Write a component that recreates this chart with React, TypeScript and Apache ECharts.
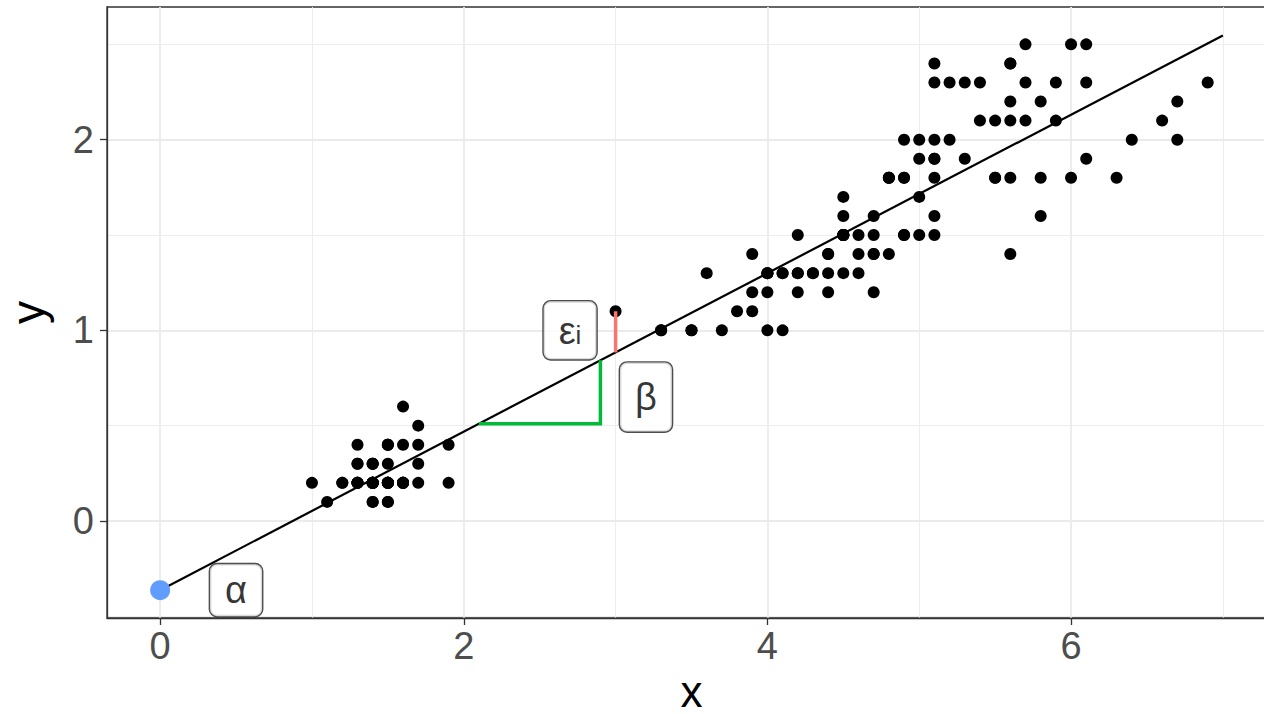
import React, { useEffect, useRef } from "react";
import * as echarts from "echarts";

// iris petal length (x) and petal width (y)
const petalLength = [
  1.4, 1.4, 1.3, 1.5, 1.4, 1.7, 1.4, 1.5, 1.4, 1.5, 1.5, 1.6, 1.4, 1.1, 1.2, 1.5, 1.3, 1.4, 1.7, 1.5,
  1.7, 1.5, 1.0, 1.7, 1.9, 1.6, 1.6, 1.5, 1.4, 1.6, 1.6, 1.5, 1.5, 1.4, 1.5, 1.2, 1.3, 1.4, 1.3, 1.5,
  1.3, 1.3, 1.3, 1.6, 1.9, 1.4, 1.6, 1.4, 1.5, 1.4,
  4.7, 4.5, 4.9, 4.0, 4.6, 4.5, 4.7, 3.3, 4.6, 3.9, 3.5, 4.2, 4.0, 4.7, 3.6, 4.4, 4.5, 4.1, 4.5, 3.9,
  4.8, 4.0, 4.9, 4.7, 4.3, 4.4, 4.8, 5.0, 4.5, 3.5, 3.8, 3.7, 3.9, 5.1, 4.5, 4.5, 4.7, 4.4, 4.1, 4.0,
  4.4, 4.6, 4.0, 3.3, 4.2, 4.2, 4.2, 4.3, 3.0, 4.1,
  6.0, 5.1, 5.9, 5.6, 5.8, 6.6, 4.5, 6.3, 5.8, 6.1, 5.1, 5.3, 5.5, 5.0, 5.1, 5.3, 5.5, 6.7, 6.9, 5.0,
  5.7, 4.9, 6.7, 4.9, 5.7, 6.0, 4.8, 4.9, 5.6, 5.8, 6.1, 6.4, 5.6, 5.1, 5.6, 6.1, 5.6, 5.5, 4.8, 5.4,
  5.6, 5.1, 5.1, 5.9, 5.7, 5.2, 5.0, 5.2, 5.4, 5.1,
];
const petalWidth = [
  0.2, 0.2, 0.2, 0.2, 0.2, 0.4, 0.3, 0.2, 0.2, 0.1, 0.2, 0.2, 0.1, 0.1, 0.2, 0.4, 0.4, 0.3, 0.3, 0.3,
  0.2, 0.4, 0.2, 0.5, 0.2, 0.2, 0.4, 0.2, 0.2, 0.2, 0.2, 0.4, 0.1, 0.2, 0.2, 0.2, 0.2, 0.1, 0.2, 0.2,
  0.3, 0.3, 0.2, 0.6, 0.4, 0.3, 0.2, 0.2, 0.2, 0.2,
  1.4, 1.5, 1.5, 1.3, 1.5, 1.3, 1.6, 1.0, 1.3, 1.4, 1.0, 1.5, 1.0, 1.4, 1.3, 1.4, 1.5, 1.0, 1.5, 1.1,
  1.8, 1.3, 1.5, 1.2, 1.3, 1.4, 1.4, 1.7, 1.5, 1.0, 1.1, 1.0, 1.2, 1.6, 1.5, 1.6, 1.5, 1.3, 1.3, 1.3,
  1.2, 1.4, 1.2, 1.0, 1.3, 1.2, 1.3, 1.3, 1.1, 1.3,
  2.5, 1.9, 2.1, 1.8, 2.2, 2.1, 1.7, 1.8, 1.8, 2.5, 2.0, 1.9, 2.1, 2.0, 2.4, 2.3, 1.8, 2.2, 2.3, 1.5,
  2.3, 2.0, 2.0, 1.8, 2.1, 1.8, 1.8, 1.8, 2.1, 1.6, 1.9, 2.0, 2.2, 1.5, 1.4, 2.3, 2.4, 1.8, 1.8, 2.1,
  2.4, 2.3, 1.9, 2.3, 2.5, 2.3, 1.9, 2.0, 2.3, 1.8,
];

// fitted line endpoints (alpha = intercept at x = 0)
const fitX = [0, 7];
const fitY = [-0.363, 2.547];
// slope triangle (beta)
const slopeX = [2.1, 2.9, 2.9];
const slopeY = [0.51, 0.51, 0.843];
// residual (epsilon_i)
const residX = [3.0, 3.0];
const residY = [1.1, 0.884];
// intercept point
const alphaPointX = [0];
const alphaPointY = [-0.363];
// annotation labels
const labelNames = ["alpha", "eps", "beta"];
const labelX = [0.5, 2.7, 3.2];
const labelY = [-0.363, 1.0, 0.65];

const xRange = [-0.35, 7.35];
const yRange = [-0.509, 2.696];
const xMajor = [0, 2, 4, 6];
const xMinor = [1, 3, 5, 7];
const yMajor = [0, 1, 2];
const yMinor = [-0.5, 0.5, 1.5, 2.5];

const FONT = "'Liberation Sans', Arial, Helvetica, sans-serif";

const zip = (a: number[], b: number[]) => a.map((v, i) => [v, b[i]]);

export default function App() {
  const ref = useRef<HTMLDivElement>(null);
  useEffect(() => {
    if (!ref.current) return;
    const chart = echarts.init(ref.current, undefined, { renderer: "svg" });
    const gridColor = "#EBEBEB";
    const dark = "#333333";
    const labelBox = {
      show: true,
      position: "inside",
      color: "#000",
      fontFamily: FONT,
      fontSize: 38,
      backgroundColor: "#fff",
      borderColor: "#222",
      borderWidth: 1.4,
      borderRadius: 7,
    };
    const labelData = labelNames.map((n, i) => {
      let label: any;
      if (n === "alpha") {
        label = { ...labelBox, formatter: "α", lineHeight: 28, padding: [11, 15, 13, 15] };
      } else if (n === "beta") {
        label = { ...labelBox, formatter: "β", lineHeight: 45, padding: [12, 15, 12, 15] };
      } else {
        label = {
          ...labelBox,
          formatter: "{e|ε}{s|i}",
          padding: [11, 15, 11, 15],
          rich: {
            e: { fontSize: 38, fontFamily: FONT, color: "#000", lineHeight: 36, verticalAlign: "top" },
            s: {
              fontSize: 26,
              fontFamily: FONT,
              color: "#000",
              lineHeight: 28,
              verticalAlign: "top",
              padding: [10, 0, 0, 0],
            },
          },
        };
      }
      return { value: [labelX[i], labelY[i]], label };
    });

    chart.setOption({
      animation: false,
      backgroundColor: "#fff",
      grid: {
        left: 107,
        right: -12,
        top: 7,
        bottom: 96,
        containLabel: false,
        outerBoundsMode: "none",
        show: true,
        borderColor: dark,
        borderWidth: 1.3,
        backgroundColor: "#fff",
      },
      xAxis: [
        {
          type: "value",
          min: xRange[0],
          max: xRange[1],
          position: "bottom",
          name: "x",
          nameLocation: "middle",
          nameGap: 40,
          nameTextStyle: { fontSize: 44, lineHeight: 40, color: "#000", fontFamily: FONT },
          axisLine: { show: true, onZero: false, lineStyle: { color: dark, width: 1.3 } },
          axisTick: { show: true, length: 7, customValues: xMajor, lineStyle: { color: dark, width: 1.3 } },
          axisLabel: { customValues: xMajor, margin: 9, fontSize: 38, color: "#4D4D4D", fontFamily: FONT },
          splitLine: { show: true, lineStyle: { color: gridColor, width: 1.8 } },
        },
        {
          type: "value",
          min: xRange[0],
          max: xRange[1],
          position: "bottom",
          axisLine: { show: false, onZero: false },
          axisTick: { show: false, customValues: xMinor },
          axisLabel: { show: false, customValues: xMinor },
          splitLine: { show: true, lineStyle: { color: gridColor, width: 0.9 } },
        },
      ],
      yAxis: [
        {
          type: "value",
          min: yRange[0],
          max: yRange[1],
          position: "left",
          name: "y",
          nameLocation: "middle",
          nameGap: 59,
          nameTextStyle: { fontSize: 46, lineHeight: 40, color: "#000", fontFamily: FONT },
          axisLine: { show: true, onZero: false, lineStyle: { color: dark, width: 1.3 } },
          axisTick: { show: true, length: 7, customValues: yMajor, lineStyle: { color: dark, width: 1.3 } },
          axisLabel: { customValues: yMajor, margin: 13, fontSize: 38, color: "#4D4D4D", fontFamily: FONT },
          splitLine: { show: true, lineStyle: { color: gridColor, width: 1.8 } },
        },
        {
          type: "value",
          min: yRange[0],
          max: yRange[1],
          position: "left",
          axisLine: { show: false, onZero: false },
          axisTick: { show: false, customValues: yMinor },
          axisLabel: { show: false, customValues: yMinor },
          splitLine: { show: true, lineStyle: { color: gridColor, width: 0.9 } },
        },
      ],
      series: [
        {
          type: "scatter",
          xAxisIndex: 0,
          yAxisIndex: 0,
          data: zip(petalLength, petalWidth),
          symbolSize: 12,
          itemStyle: { color: "#000", opacity: 1 },
          z: 3,
        },
        {
          type: "line",
          xAxisIndex: 0,
          yAxisIndex: 0,
          data: zip(fitX, fitY),
          showSymbol: false,
          lineStyle: { color: "#000", width: 2.2 },
          z: 4,
        },
        {
          type: "line",
          xAxisIndex: 0,
          yAxisIndex: 0,
          data: zip(slopeX, slopeY),
          showSymbol: false,
          lineStyle: { color: "#00BA38", width: 3.5, join: "miter" },
          z: 4,
        },
        {
          type: "line",
          xAxisIndex: 0,
          yAxisIndex: 0,
          data: zip(residX, residY),
          showSymbol: false,
          lineStyle: { color: "#F8766D", width: 3.5 },
          z: 4,
        },
        {
          type: "scatter",
          xAxisIndex: 0,
          yAxisIndex: 0,
          data: zip(alphaPointX, alphaPointY),
          symbolSize: 20,
          itemStyle: { color: "#619CFF", opacity: 1 },
          z: 5,
        },
        {
          type: "scatter",
          xAxisIndex: 0,
          yAxisIndex: 0,
          data: labelData,
          symbolSize: 1,
          itemStyle: { color: "rgba(0,0,0,0)" },
          z: 6,
        },
      ],
    });
    return () => chart.dispose();
  }, []);
  return (
    <div
      ref={ref}
      style={{ position: "fixed", left: 0, top: 0, width: 1264, height: 714, overflow: "hidden" }}
    />
  );
}
